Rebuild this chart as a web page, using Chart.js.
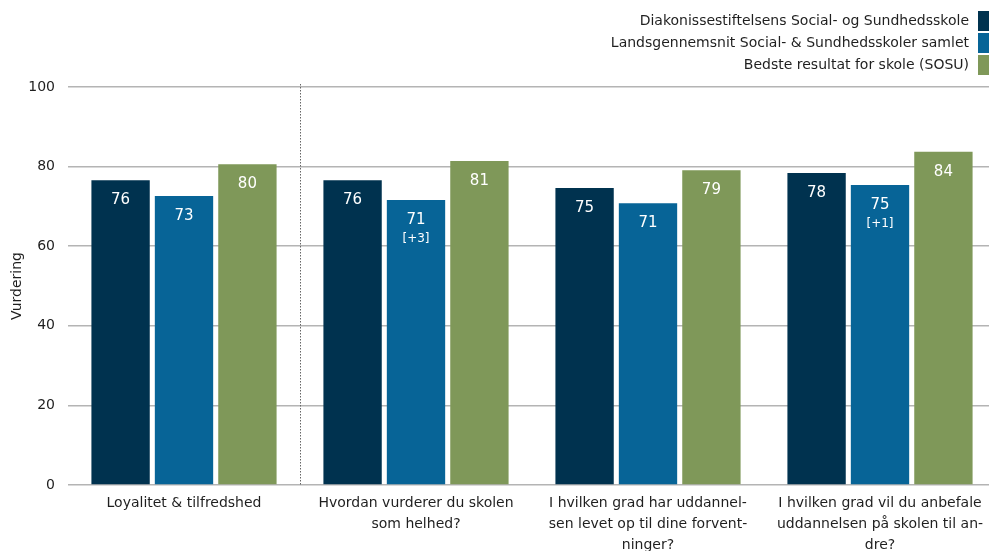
<!DOCTYPE html>
<html>
<head>
<meta charset="utf-8">
<script src="https://cdn.jsdelivr.net/npm/chart.js@4/dist/chart.umd.min.js"></script>
<style>
  html, body { margin: 0; padding: 0; background: #fff; overflow: hidden; }
</style>
</head>
<body>
<!-- lærredet er lidt større end vinduet: plotområdet går helt ud til kanten i originalen -->
<canvas id="grafico" width="996" height="556"></canvas>
<script>
// kategorier (x-akse), linjer delt op som i originalen
const kategorier = [
    'Loyalitet & tilfredshed',
    ['Hvordan vurderer du skolen', 'som helhed?'],
    ['I hvilken grad har uddannel-', 'sen levet op til dine forvent-', 'ninger?'],
    ['I hvilken grad vil du anbefale', 'uddannelsen på skolen til an-', 'dre?']
]

const serieNavne = [
    'Diakonissestiftelsens Social- og Sundhedsskole',
    'Landsgennemsnit Social- & Sundhedsskoler samlet',
    'Bedste resultat for skole (SOSU)'
]

// værdier aflæst fra søjlehøjderne
const skolen = [76.6, 76.6, 74.6, 78.4]
const landsgennemsnit = [72.6, 71.6, 70.8, 75.4]
const bedste = [80.6, 81.4, 79.1, 83.7]

// tal der står i søjlerne
const skolenLabels = ['76', '76', '75', '78']
const landsLabels = ['73', '71', '71', '75']
const bedsteLabels = ['80', '81', '79', '84']
const landsNoter = ['', '[+3]', '', '[+1]']

const yTicks = [0, 20, 40, 60, 80, 100]

const farver = ['#00324f', '#076497', '#7f9859']
const font = '"DejaVu Sans", sans-serif'
const tekstFarve = '#1f1f1f'

const labelsPrSerie = [skolenLabels, landsLabels, bedsteLabels]
const noterPrSerie = [[], landsNoter, []]

// skriver tallene inde i søjlerne
const vaerdiPlugin = {
    id: 'vaerdier',
    afterDatasetsDraw(chart) {
        const ctx = chart.ctx
        ctx.save()
        ctx.fillStyle = '#ffffff'
        ctx.textAlign = 'center'
        ctx.textBaseline = 'middle'
        chart.data.datasets.forEach((ds, d) => {
            const meta = chart.getDatasetMeta(d)
            meta.data.forEach((bar, i) => {
                ctx.font = '15px ' + font
                ctx.fillText(labelsPrSerie[d][i], bar.x, bar.y + 20)
                const note = noterPrSerie[d][i]
                if (note) {
                    ctx.font = '12px ' + font
                    ctx.fillText(note, bar.x, bar.y + 39)
                }
            })
        })
        ctx.restore()
    }
}

// prikket skillelinje mellem første og anden kategori
const skillelinje = {
    id: 'skillelinje',
    afterDatasetsDraw(chart) {
        const x = chart.scales.x
        const area = chart.chartArea
        const px = Math.round((x.getPixelForValue(0) + x.getPixelForValue(1)) / 2) + 0.5
        const ctx = chart.ctx
        ctx.save()
        ctx.strokeStyle = '#666666'
        ctx.lineWidth = 1
        ctx.setLineDash([1.5, 1.5])
        ctx.beginPath()
        ctx.moveTo(px, area.top - 3)
        ctx.lineTo(px, area.bottom)
        ctx.stroke()
        ctx.restore()
    }
}

// legende oppe til højre: tekst til venstre for farvefeltet
const legende = {
    id: 'legende',
    afterDraw(chart) {
        const ctx = chart.ctx
        const hoejre = window.innerWidth // synlig kant
        ctx.save()
        ctx.font = '14px ' + font
        ctx.textAlign = 'right'
        ctx.textBaseline = 'middle'
        chart.data.datasets.forEach((ds, i) => {
            const top = 11 + i * 22
            ctx.fillStyle = ds.backgroundColor
            ctx.fillRect(hoejre - 11, top, 11, 20)
            ctx.fillStyle = tekstFarve
            ctx.fillText(ds.label, hoejre - 20, top + 10)
        })
        ctx.restore()
    }
}

const serier = [skolen, landsgennemsnit, bedste]

new Chart(document.getElementById('grafico'), {
    type: 'bar',
    data: {
        labels: kategorier,
        datasets: serier.map((data, i) => ({
            label: serieNavne[i],
            data: data,
            backgroundColor: farver[i],
            borderWidth: 0,
            categoryPercentage: 0.82,
            barPercentage: 0.92
        }))
    },
    options: {
        responsive: false,
        animation: false,
        devicePixelRatio: 1,
        layout: {
            padding: { top: 87, right: 0, bottom: 0, left: 4 }
        },
        plugins: {
            legend: { display: false },
            tooltip: { enabled: false }
        },
        scales: {
            x: {
                grid: { display: false },
                border: { display: false },
                ticks: {
                    color: tekstFarve,
                    font: { family: font, size: 14, lineHeight: 1.5 },
                    maxRotation: 0,
                    autoSkip: false,
                    padding: 0
                },
                // labels må gerne gå ud over kanten, ingen ekstra luft
                afterFit(scale) {
                    scale.paddingLeft = 0
                    scale.paddingRight = 0
                }
            },
            y: {
                min: 0,
                max: 100,
                afterBuildTicks(axis) {
                    axis.ticks = yTicks.map(v => ({ value: v }))
                },
                afterFit(scale) {
                    scale.paddingTop = 0
                    scale.paddingBottom = 0
                    scale.width = 64 // fast bredde, så plotområdet starter som i originalen
                },
                grid: { color: '#b4b4b4', lineWidth: 1.5, drawTicks: false },
                border: { display: false },
                ticks: {
                    color: tekstFarve,
                    font: { family: font, size: 14 },
                    padding: 13
                },
                title: {
                    display: true,
                    text: 'Vurdering',
                    color: tekstFarve,
                    font: { family: font, size: 14 },
                    padding: { top: 5, bottom: 2 }
                }
            }
        }
    },
    plugins: [skillelinje, vaerdiPlugin, legende]
})
</script>
</body>
</html>
